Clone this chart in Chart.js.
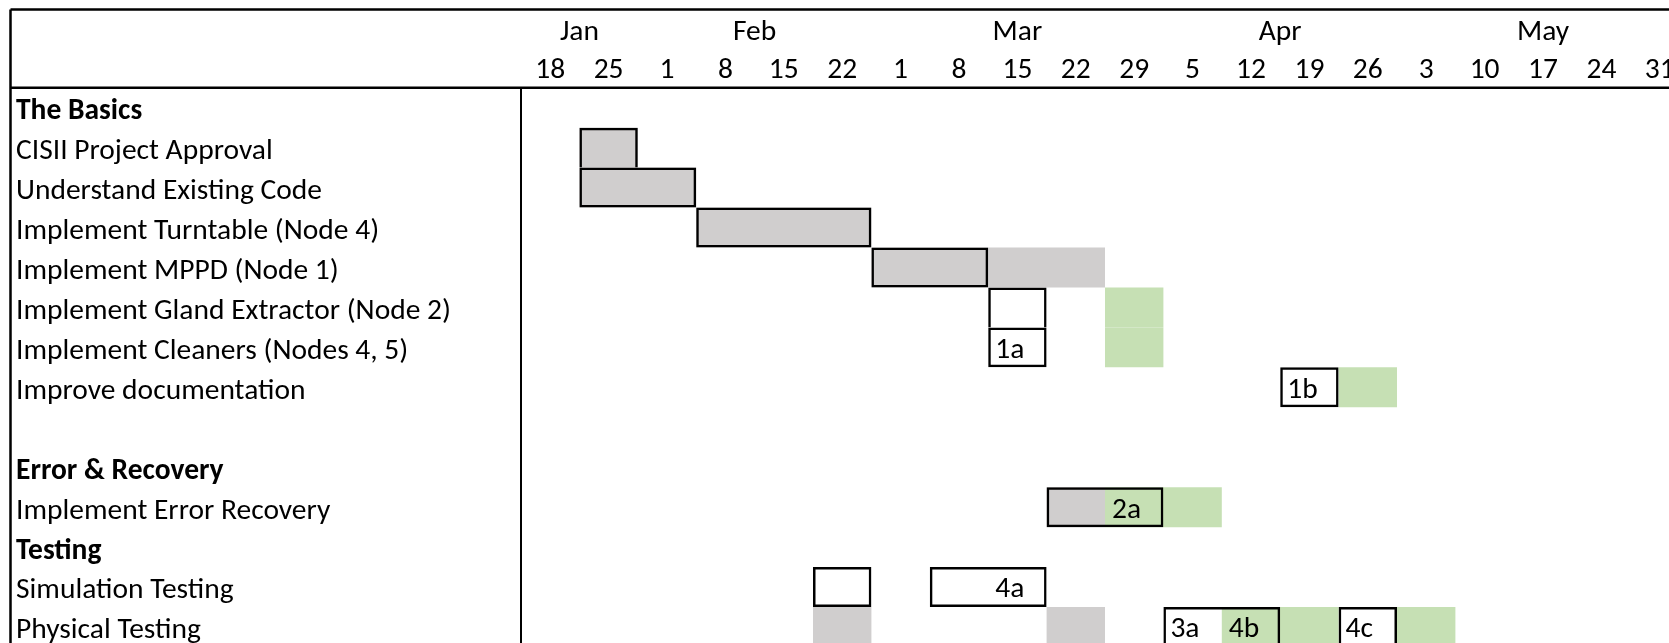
<!DOCTYPE html>
<html>
<head>
<meta charset="utf-8">
<script src="https://cdn.jsdelivr.net/npm/chart.js@4.4.1/dist/chart.umd.min.js"></script>
<style>
  html, body { margin: 0; padding: 0; background: #fff; overflow: hidden; }
  #wrap { width: 1690px; height: 647px; }
</style>
</head>
<body>
<div id="wrap"><canvas id="ganttChart" width="1690" height="647"></canvas></div>
<script>
// rows of the sheet, top to bottom
const rowLabels = [
    'The Basics',
    'CISII Project Approval',
    'Understand Existing Code',
    'Implement Turntable (Node 4)',
    'Implement MPPD (Node 1)',
    'Implement Gland Extractor (Node 2)',
    'Implement Cleaners (Nodes 4, 5)',
    'Improve documentation',
    '',
    'Error & Recovery',
    'Implement Error Recovery',
    'Testing',
    'Simulation Testing',
    'Physical Testing'
];
const headingRows = ['The Basics', 'Error & Recovery', 'Testing'];

// week columns (start day of each week) and the month each one falls in
const weekLabels = ['18', '25', '1', '8', '15', '22', '1', '8', '15', '22', '29', '5', '12', '19', '26', '3', '10', '17', '24', '31'];
const weekMonths = ['Jan', 'Jan', 'Feb', 'Feb', 'Feb', 'Feb', 'Mar', 'Mar', 'Mar', 'Mar', 'Mar', 'Apr', 'Apr', 'Apr', 'Apr', 'May', 'May', 'May', 'May', 'May'];

// [row, first week, end week] -- grey cells
const greyCells = [
    ['CISII Project Approval', 1, 2],
    ['Understand Existing Code', 1, 3],
    ['Implement Turntable (Node 4)', 3, 6],
    ['Implement MPPD (Node 1)', 6, 10],
    ['Implement Error Recovery', 9, 10],
    ['Physical Testing', 5, 6],
    ['Physical Testing', 9, 10]
];
// green cells
const greenCells = [
    ['Implement Gland Extractor (Node 2)', 10, 11],
    ['Implement Cleaners (Nodes 4, 5)', 10, 11],
    ['Improve documentation', 14, 15],
    ['Implement Error Recovery', 10, 12],
    ['Physical Testing', 12, 14],
    ['Physical Testing', 15, 16]
];
// outlined boxes
const boxCells = [
    ['CISII Project Approval', 1, 2],
    ['Understand Existing Code', 1, 3],
    ['Implement Turntable (Node 4)', 3, 6],
    ['Implement MPPD (Node 1)', 6, 8],
    ['Implement Gland Extractor (Node 2)', 8, 9],
    ['Implement Cleaners (Nodes 4, 5)', 8, 9],
    ['Improve documentation', 13, 14],
    ['Implement Error Recovery', 9, 11],
    ['Simulation Testing', 5, 6],
    ['Simulation Testing', 7, 9],
    ['Physical Testing', 11, 13],
    ['Physical Testing', 14, 15]
];
// short codes written in a cell: [row, week, text]
const cellTags = [
    ['Implement Cleaners (Nodes 4, 5)', 8, '1a'],
    ['Improve documentation', 13, '1b'],
    ['Implement Error Recovery', 10, '2a'],
    ['Simulation Testing', 8, '4a'],
    ['Physical Testing', 11, '3a'],
    ['Physical Testing', 12, '4b'],
    ['Physical Testing', 14, '4c']
];

const FONT = 'Carlito, Lato, sans-serif';
const FONT_SIZE = 29.5;

// month label sits in the middle of its run of weeks
const monthTicks = [];
weekMonths.forEach((m, i) => {
    const last = monthTicks[monthTicks.length - 1];
    if (last && last.name === m) last.end = i + 1;
    else monthTicks.push({name: m, start: i, end: i + 1});
});

const toBars = cells => cells.map(c => ({y: c[0], x: [c[1], c[2]]}));

// skip the bottom edge of a box when the box in the next row covers it
function skipEdge(ctx) {
    const c = boxCells[ctx.dataIndex];
    if (!c) return false;
    const below = rowLabels[rowLabels.indexOf(c[0]) + 1];
    const hit = boxCells.some(o => o[0] === below && o[1] < c[2] && c[1] < o[2]);
    return hit ? 'bottom' : false;
}

// no label overhang padding, the sheet is cut off at the edges
function noPad(scale) {
    scale.paddingTop = 0;
    scale.paddingBottom = 0;
    scale.paddingLeft = 0;
    scale.paddingRight = 0;
}

// table frame: top and left edges, line under the header
const framePlugin = {
    id: 'frame',
    afterDraw(chart) {
        const ctx = chart.ctx;
        const top = chart.chartArea.top;
        ctx.save();
        ctx.strokeStyle = '#000';
        ctx.lineWidth = 2.5;
        ctx.beginPath();
        ctx.moveTo(10.5, 9.5);
        ctx.lineTo(chart.width, 9.5);
        ctx.moveTo(10.5, 9.5);
        ctx.lineTo(10.5, chart.height);
        ctx.moveTo(10.5, top);
        ctx.lineTo(chart.width, top);
        ctx.stroke();
        ctx.restore();
    }
};

// codes like 1a / 4b at the left of their cell
const tagPlugin = {
    id: 'tags',
    afterDatasetsDraw(chart) {
        const ctx = chart.ctx;
        const xs = chart.scales.x, ys = chart.scales.y;
        ctx.save();
        ctx.fillStyle = '#000';
        ctx.font = FONT_SIZE + 'px ' + FONT;
        ctx.textAlign = 'left';
        ctx.textBaseline = 'middle';
        cellTags.forEach(t => {
            const x = xs.getPixelForValue(t[1]) + 7;
            const y = ys.getPixelForValue(rowLabels.indexOf(t[0])) + 3;
            ctx.fillText(t[2], x, y);
        });
        ctx.restore();
    }
};

const ctx = document.getElementById('ganttChart').getContext('2d');
const ganttChart = new Chart(ctx, {
    type: 'bar',
    plugins: [framePlugin, tagPlugin],
    data: {
        labels: rowLabels,
        datasets: [{
            label: 'Boxes',
            data: toBars(boxCells),
            backgroundColor: 'rgba(0,0,0,0)',
            borderColor: '#000',
            borderWidth: 2.5,
            borderSkipped: skipEdge,
            order: 0
        }, {
            label: 'Green',
            data: toBars(greenCells),
            backgroundColor: '#C6E0B4',
            borderWidth: 0,
            order: 1
        }, {
            label: 'Grey',
            data: toBars(greyCells),
            backgroundColor: '#D0CECE',
            borderWidth: 0,
            order: 2
        }]
    },
    options: {
        indexAxis: 'y',
        responsive: false,
        animation: false,
        layout: {
            autoPadding: false,
            padding: {top: 8, left: 16, right: 1, bottom: 0}
        },
        datasets: {
            bar: {
                grouped: false,
                barPercentage: 1,
                categoryPercentage: 1,
                inflateAmount: 0
            }
        },
        scales: {
            y: {
                type: 'category',
                position: 'left',
                grid: {display: false},
                border: {display: true, color: '#000', width: 2},
                ticks: {
                    crossAlign: 'far',
                    padding: 0,
                    labelOffset: 4,
                    color: '#000',
                    autoSkip: false,
                    font: c => ({
                        family: FONT,
                        size: FONT_SIZE,
                        weight: headingRows.includes(rowLabels[c.index]) ? 'bold' : 'normal'
                    })
                },
                afterFit: scale => { scale.width = 505; noPad(scale); }
            },
            x: {
                type: 'linear',
                position: 'top',
                min: 0,
                max: weekLabels.length,
                weight: 0,
                grid: {display: false, drawTicks: false},
                border: {display: false},
                ticks: {
                    autoSkip: false,
                    maxRotation: 0,
                    padding: 2,
                    color: '#000',
                    font: {family: FONT, size: FONT_SIZE, lineHeight: 1},
                    callback: (value, index) => weekLabels[index]
                },
                afterBuildTicks: scale => {
                    scale.ticks = weekLabels.map((w, i) => ({value: i + 0.5}));
                },
                afterFit: scale => { scale.height = 39; noPad(scale); }
            },
            x2: {
                type: 'linear',
                position: 'top',
                min: 0,
                max: weekLabels.length,
                weight: 1,
                grid: {display: false, drawTicks: false},
                border: {display: false},
                ticks: {
                    autoSkip: false,
                    maxRotation: 0,
                    padding: 1,
                    color: '#000',
                    font: {family: FONT, size: FONT_SIZE, lineHeight: 1},
                    callback: (value, index) => monthTicks[index].name
                },
                afterBuildTicks: scale => {
                    scale.ticks = monthTicks.map(m => ({value: (m.start + m.end) / 2}));
                },
                afterFit: scale => { scale.height = 40.7; noPad(scale); }
            }
        },
        plugins: {
            legend: {display: false},
            tooltip: {enabled: false}
        }
    }
});
</script>
</body>
</html>
